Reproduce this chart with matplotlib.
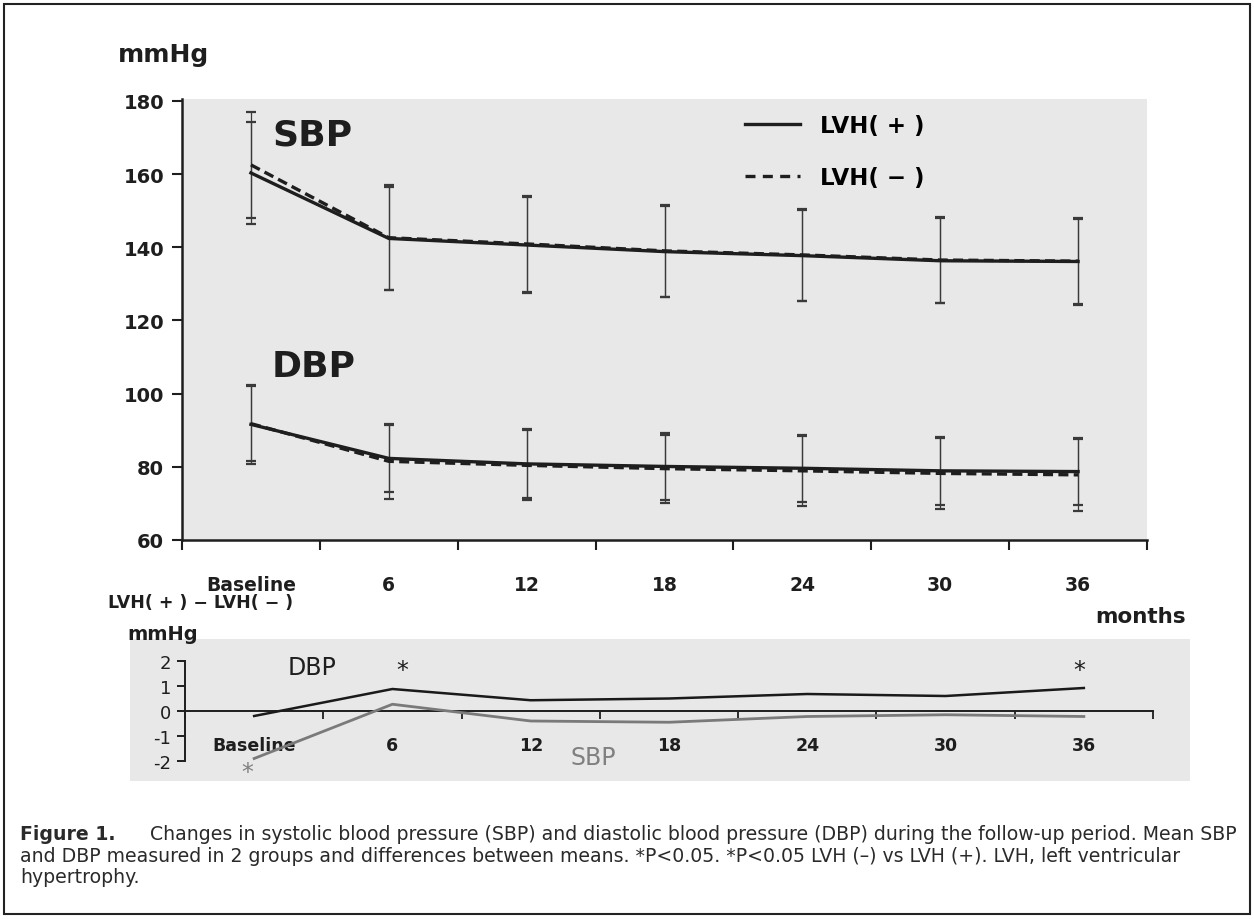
import numpy as np
import matplotlib.pyplot as plt
from matplotlib.lines import Line2D
from matplotlib.patches import Rectangle

W, H = 1254, 920

# values
months = ['Baseline', '6', '12', '18', '24', '30', '36']
sbp_pos = [160.3, 142.4, 140.6, 138.8, 137.7, 136.3, 136.1]
sbp_neg = [162.5, 142.6, 140.9, 139.0, 137.9, 136.5, 136.2]
sbp_pos_sd = [13.9, 14.0, 13.0, 12.4, 12.4, 11.6, 11.6]
sbp_neg_sd = [14.4, 14.3, 13.1, 12.6, 12.5, 11.7, 11.9]
dbp_pos = [91.6, 82.3, 80.8, 80.1, 79.6, 78.9, 78.7]
dbp_neg = [91.8, 81.5, 80.4, 79.5, 78.9, 78.2, 77.8]
dbp_pos_sd = [10.8, 9.2, 9.4, 9.2, 9.2, 9.2, 9.2]
dbp_neg_sd = [10.3, 10.2, 9.6, 9.3, 9.5, 9.6, 9.8]
diff_dbp = [-0.2, 0.88, 0.43, 0.5, 0.68, 0.6, 0.92]
diff_sbp = [-1.9, 0.27, -0.4, -0.45, -0.22, -0.15, -0.22]

DARK = '#1e1e1e'
BG = '#e8e8e8'

fig = plt.figure(figsize=(W / 100, H / 100), dpi=100)


def fx(x):
    return x / W


def fy(y):
    return 1 - y / H


def ftext(x, y, s, **kw):
    fig.text(fx(x), fy(y), s, **kw)


# outer frame and lower panel background
fig.patches.append(Rectangle((fx(4), fy(915)), 1246 / W, 910 / H, transform=fig.transFigure,
                             fill=False, lw=1.5, edgecolor='#222222', zorder=-5))
fig.patches.append(Rectangle((fx(130), fy(782)), 1060 / W, 142 / H, transform=fig.transFigure,
                             facecolor=BG, edgecolor='none', zorder=-5))

# ---------- top panel: mean SBP / DBP ----------
ax = fig.add_axes([fx(182), fy(541), 965 / W, 441 / H])
ax.set_facecolor(BG)
x = np.arange(len(months))

for vals, sd in [(sbp_neg, sbp_neg_sd), (sbp_pos, sbp_pos_sd),
                 (dbp_neg, dbp_neg_sd), (dbp_pos, dbp_pos_sd)]:
    ax.errorbar(x, vals, yerr=sd, fmt='none', ecolor='#3a3a3a', elinewidth=0.9,
                capsize=3.5, capthick=1.6, zorder=2)

dash = (0, (3, 1.6))
ax.plot(x, sbp_neg, color=DARK, lw=2.4, ls=dash, zorder=3)
ax.plot(x, sbp_pos, color=DARK, lw=2.4, zorder=4)
ax.plot(x, dbp_neg, color=DARK, lw=2.4, ls=dash, zorder=3)
ax.plot(x, dbp_pos, color=DARK, lw=2.4, zorder=4)

ax.set_xlim(-0.5, 6.5)
ax.set_ylim(60, 180.5)
ax.set_yticks(np.arange(60, 181, 20))
ax.set_xticks(np.arange(-0.5, 7, 1))
ax.set_xticklabels([])
ax.set_xticks(x, minor=True)
ax.set_xticklabels(months, minor=True, fontsize=13.5, fontweight='bold', color=DARK)
ax.tick_params(axis='x', which='major', direction='out', length=7, width=1.5, color=DARK)
ax.tick_params(axis='x', which='minor', length=0, pad=25)
ax.tick_params(axis='y', direction='out', length=7, width=1.5, color=DARK, pad=6)
for lab in ax.get_yticklabels():
    lab.set_fontsize(14)
    lab.set_fontweight('bold')
    lab.set_color(DARK)
for s in ['top', 'right']:
    ax.spines[s].set_visible(False)
for s in ['left', 'bottom']:
    ax.spines[s].set_linewidth(1.8)
    ax.spines[s].set_color(DARK)

handles = [Line2D([], [], color=DARK, lw=2.4),
           Line2D([], [], color=DARK, lw=2.4, ls=(0, (3, 2.2)))]
fig.legend(handles, ['LVH( + )', 'LVH( \u2212 )'], loc='upper left',
           bbox_to_anchor=(fx(724), fy(94)), frameon=False, handlelength=2.4,
           handletextpad=0.9, labelspacing=1.3,
           prop={'weight': 'bold', 'size': 16.5})

ftext(163, 55, 'mmHg', ha='center', va='center', fontsize=18, fontweight='bold', color=DARK)
ftext(312, 135, 'SBP', ha='center', va='center', fontsize=26, fontweight='bold', color=DARK)
ftext(314, 367, 'DBP', ha='center', va='center', fontsize=26, fontweight='bold', color=DARK)

# ---------- bottom panel: LVH(+) - LVH(-) ----------
ax2 = fig.add_axes([fx(185), fy(772), 968 / W, 120 / H])
ax2.set_facecolor('none')
ax2.plot(x, diff_dbp, color='#1a1a1a', lw=1.8, zorder=3)
ax2.plot(x, diff_sbp, color='#7a7a7a', lw=2.0, zorder=3)
ax2.set_xlim(-0.5, 6.5)
ax2.set_ylim(-2.4, 2.4)
ax2.spines['bottom'].set_position(('data', 0))
ax2.spines['left'].set_bounds(-2, 2)
for s in ['top', 'right']:
    ax2.spines[s].set_visible(False)
for s in ['left', 'bottom']:
    ax2.spines[s].set_linewidth(1.4)
    ax2.spines[s].set_color(DARK)
ax2.set_yticks([-2, -1, 0, 1, 2])
ax2.set_yticklabels(['-2', '-1', '0', '1', '2'], fontsize=13, color=DARK)
ax2.tick_params(axis='y', direction='out', length=6, width=1.4, color=DARK, pad=4)
ax2.set_xticks(np.arange(-0.5, 7, 1))
ax2.set_xticklabels([])
ax2.set_xticks(x, minor=True)
ax2.set_xticklabels(months, minor=True, fontsize=12.5, fontweight='bold', color=DARK)
ax2.tick_params(axis='x', which='major', direction='out', length=6, width=1.3, color=DARK)
ax2.tick_params(axis='x', which='minor', length=0, pad=18)

ax2.text(0.42, 1.75, 'DBP', ha='center', va='center', fontsize=17, color=DARK)
ax2.text(2.45, -1.85, 'SBP', ha='center', va='center', fontsize=17, color='#808080')
ax2.text(1.07, 1.65, '*', ha='center', va='center', fontsize=17, color=DARK)
ax2.text(5.97, 1.65, '*', ha='center', va='center', fontsize=17, color=DARK)
ax2.text(-0.05, -2.45, '*', ha='center', va='center', fontsize=17, color='#808080')

ftext(108, 603, 'LVH( + ) \u2212 LVH( \u2212 )', ha='left', va='center', fontsize=12.5,
      fontweight='bold', color=DARK)
ftext(163, 635, 'mmHg', ha='center', va='center', fontsize=14, fontweight='bold', color=DARK)
ftext(1141, 617, 'months', ha='center', va='center', fontsize=15.5, fontweight='bold', color=DARK)

# ---------- caption ----------
cap_kw = dict(ha='left', va='center', fontsize=13.6, color='#2a2a2a')
ftext(20, 835, 'Figure 1.', fontweight='bold', **cap_kw)
ftext(150, 835, 'Changes in systolic blood pressure (SBP) and diastolic blood pressure (DBP) '
                'during the follow-up period. Mean SBP', **cap_kw)
ftext(20, 857, 'and DBP measured in 2 groups and differences between means. *P<0.05. '
               '*P<0.05 LVH (\u2013) vs LVH (+). LVH, left ventricular', **cap_kw)
ftext(20, 878, 'hypertrophy.', **cap_kw)

fig.savefig('out.png', dpi=100, facecolor='white')
